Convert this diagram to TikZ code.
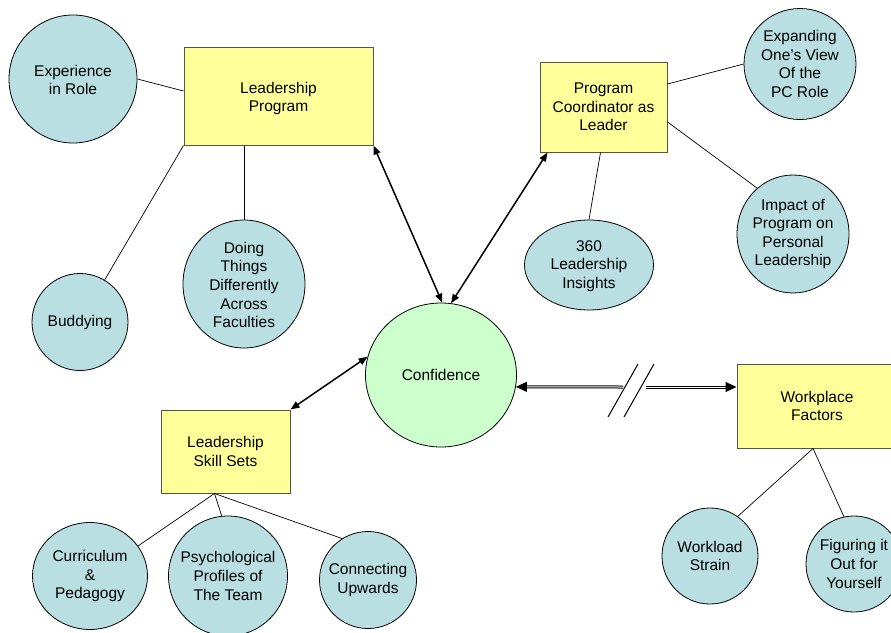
\documentclass[tikz,border=0pt]{standalone}
\usepackage{fontspec}
\setmainfont{Liberation Sans}
\usetikzlibrary{shapes.geometric,arrows.meta}
\definecolor{cbub}{RGB}{185,223,227}
\definecolor{cbox}{RGB}{255,255,153}
\definecolor{cconf}{RGB}{204,255,204}
\definecolor{boxline}{RGB}{85,85,70}
\newcommand\dfont{\fontsize{15.5}{18.6}\selectfont}
\tikzset{
  lbl/.style={align=center,font=\dfont,inner sep=0pt},
  bub/.style={ellipse,draw=black,line width=0.8pt,fill=cbub,inner sep=0pt},
  bx/.style={rectangle,draw=boxline,line width=1pt,fill=cbox,inner sep=0pt,align=center,font=\dfont},
  conn/.style={line width=0.7pt,draw=black},
  arr/.style={line width=1.5pt,{Triangle[length=9pt,width=7pt]}-{Triangle[length=9pt,width=7pt]}},
  dbl/.style={double=white,double distance=1pt,line width=1pt},
}
\begin{document}
\begin{tikzpicture}[x=1pt,y=-1pt]
\useasboundingbox (0,0) rectangle (891,632);
\fill[white] (0,0) rectangle (891,632);
% boxes
\node[bx,minimum width=189pt,minimum height=98pt,label={[lbl,yshift=-2.5pt]center:Leadership\\Program}] (lp) at (278.5,96) {};
\node[bx,minimum width=127pt,minimum height=90pt] (pc) at (603.5,107) {Program\\Coordinator as\\Leader};
\node[bx,minimum width=129pt,minimum height=83pt] (ss) at (225.5,451.5) {Leadership\\Skill Sets};
\node[bx,minimum width=160pt,minimum height=84pt] (wf) at (817,406) {Workplace\\Factors};
% bubbles
\node[bub,minimum width=128pt,minimum height=128pt,label={[lbl,yshift=-1pt]center:Experience\\in Role}] (exp) at (73,79) {};
\node[bub,minimum width=96pt,minimum height=97pt,label={[lbl]center:Buddying}] (bud) at (80,322) {};
\node[bub,minimum width=122pt,minimum height=128pt,label={[lbl,yshift=-1pt]center:Doing\\Things\\Differently\\Across\\Faculties}] (doing) at (244,284) {};
\node[bub,minimum width=112pt,minimum height=111pt,label={[lbl]center:Expanding\\One’s View\\Of the\\PC Role}] (expd) at (800,64) {};
\node[bub,minimum width=112pt,minimum height=118pt,label={[lbl]center:Impact of\\Program on\\Personal\\Leadership}] (imp) at (793,234) {};
\node[bub,minimum width=129pt,minimum height=90pt,label={[lbl,yshift=-1pt]center:360\\Leadership\\Insights}] (ins) at (589,265) {};
\node[bub,fill=cconf,minimum width=151pt,minimum height=144pt,label={[lbl]center:Confidence}] (conf) at (441,375) {};
\node[bub,minimum width=115pt,minimum height=107pt,label={[lbl]center:Curriculum\\\&\\Pedagogy}] (curr) at (90,576) {};
\node[bub,minimum width=119pt,minimum height=120pt,label={[lbl]center:Psychological\\Profiles of\\The Team}] (psy) at (228,576) {};
\node[bub,minimum width=97pt,minimum height=97pt,label={[lbl]center:Connecting\\Upwards}] (cup) at (368,580) {};
\node[bub,minimum width=96pt,minimum height=96pt,label={[lbl]center:Workload\\Strain}] (work) at (710,556) {};
\node[bub,minimum width=96pt,minimum height=96pt,label={[lbl]center:Figuring it\\Out for\\Yourself}] (fig) at (854,564) {};
% thin connectors
\draw[conn] (exp.east) -- ([yshift=5pt]lp.west);
\draw[conn] (lp.south west) -- (bud);
\draw[conn] (doing.north) -- (doing.north |- lp.south);
\draw[conn] ([xshift=-3pt]pc.south) -- (ins.north);
\draw[conn] ([yshift=23pt]pc.east) -- (expd.west);
\draw[conn] ([yshift=-15pt]pc.east) -- (imp.128);
\coordinate (ssb) at ([xshift=-11pt]ss.south);
\draw[conn] (ssb) -- (curr.32);
\draw[conn] (ssb) -- (psy.96);
\draw[conn] (ssb) -- (cup.122);
\coordinate (wfb) at ([xshift=-4pt]wf.south);
\draw[conn] (wfb) -- (work.55);
\draw[conn] (wfb) -- (fig.102);
% arrows
\draw[arr] (lp.south east) -- (conf.89);
\draw[arr] ([xshift=8pt]pc.south west) -- (conf.82);
\draw[arr] (ss.north east) -- (conf.166);
\coordinate (brkL) at (623,387);
\coordinate (brkR) at (646,387);
\draw[dbl,{Triangle[length=11pt,width=10pt]}-] (conf.-9) -- (brkL);
\draw[dbl,-{Triangle[length=11pt,width=10pt]}] (brkR) -- (wf.west |- brkR);
\coordinate (s1a) at (608,417);
\coordinate (s1b) at (638,364);
\coordinate (s2a) at (624,417);
\coordinate (s2b) at (654,364);
\draw[line width=1pt] (s1a) -- (s1b);
\draw[line width=1pt] (s2a) -- (s2b);
\end{tikzpicture}
\end{document}
